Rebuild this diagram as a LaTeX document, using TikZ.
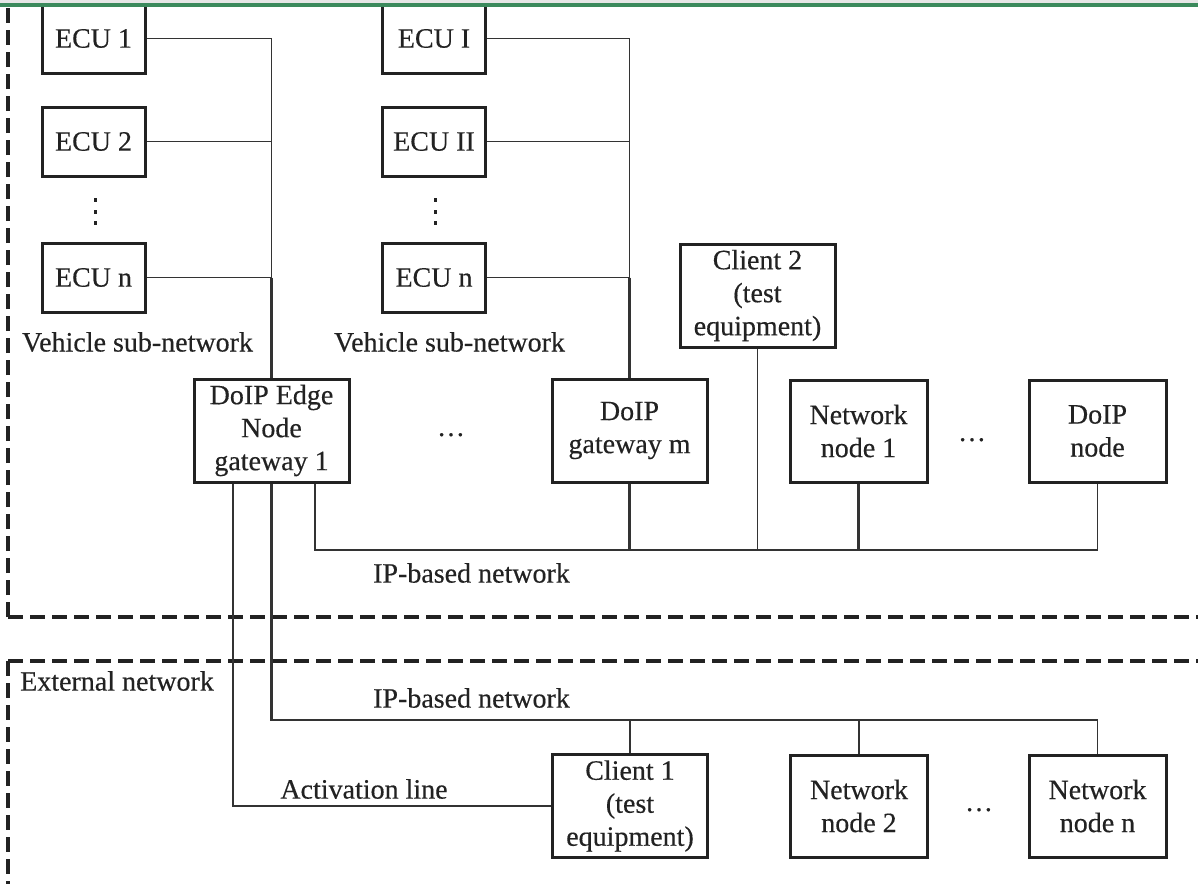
\documentclass[tikz,border=0pt]{standalone}
\usepackage{fontspec}
\setmainfont{Liberation Serif}
\newfontfamily\diagfont{Liberation Serif}[FakeBold=0.35]
\definecolor{ink}{HTML}{222222}
\definecolor{wire}{HTML}{333333}
\definecolor{topgreen}{HTML}{3B8A5C}
\definecolor{topgray}{HTML}{E6E6E6}
\begin{document}
\begin{tikzpicture}[x=1pt,y=-1pt,
  every node/.style={text=ink,font=\diagfont\fontsize{28}{33}\selectfont},
  box/.style={draw=ink,line width=3pt,fill=white,align=center,inner sep=0pt},
  ecubox/.style={box,minimum width=103pt,minimum height=69pt},
  bigbox/.style={box,minimum width=155pt,minimum height=103pt},
  nodebox/.style={box,minimum width=137pt,minimum height=102pt},
  lbl/.style={inner sep=0pt},
  thin/.style={draw=wire,line width=1.5pt},
  med/.style={draw=wire,line width=2.1pt},
  zone/.style={draw=ink,line width=3.2pt,dash pattern=on 15pt off 7pt},
  vdot/.style={fill=ink}
]
\useasboundingbox (0,0) rectangle (1198,883);
\fill[white] (0,0) rectangle (1198,883);

% zone borders
\draw[zone] (8,617) -- (8,-10);
\draw[zone] (8,617) -- (1220,617);
\draw[zone] (8,661) -- (1220,661);
\draw[zone] (8,661) -- (8,900);

% ECUs column 1
\node[ecubox] (ecu1) at (93.5,38.5) {ECU 1};
\node[ecubox] (ecu2) at (93.5,141.5) {ECU 2};
\node[ecubox] (ecun1) at (93.5,277.5) {ECU n};
% ECUs column 2
\node[ecubox] (ecuI) at (434,38.5) {ECU I};
\node[ecubox] (ecuII) at (434,141.5) {ECU II};
\node[ecubox] (ecun2) at (434,277.5) {ECU n};

% vertical dots
\foreach \yy in {198,210,221}{
  \fill[vdot] (93.5,\yy) rectangle ++(3.6,3.6);
  \fill[vdot] (433.5,\yy) rectangle ++(3.6,3.6);
}

\node[lbl] (vsn1) at (137.5,342) {Vehicle sub-network};
\node[lbl] (vsn2) at (449.5,342) {Vehicle sub-network};

% gateways and nodes
\node[bigbox] (gw1) at (271.5,430.5) {DoIP Edge\\Node\\gateway 1};
\node[bigbox] (gwm) at (629.5,430.5) {DoIP\\gateway m};
\node[bigbox] (client2) at (757.5,295.5) {Client 2\\(test\\equipment)};
\node[nodebox] (nn1) at (858.5,431) {Network\\node 1};
\node[nodebox] (doipn) at (1097.5,431) {DoIP\\node};

\node[lbl,anchor=base] (dotsA) at (451,436) {…};
\node[lbl,anchor=base] (dotsB) at (972,441) {…};

% external nodes
\node[bigbox] (client1) at (630,806) {Client 1\\(test\\equipment)};
\node[nodebox] (nn2) at (859,806) {Network\\node 2};
\node[nodebox] (nnn) at (1097.5,806) {Network\\node n};
\node[lbl,anchor=base] (dotsC) at (979,811) {…};

\node[lbl] (ipA) at (471.5,573) {IP-based network};
\node[lbl] (ipB) at (471.5,698) {IP-based network};
\node[lbl,anchor=west] (ext) at (20,681) {External network};
\node[lbl] (act) at (364,789) {Activation line};

% ECU wiring column 1
\draw[thin] (ecu1.east) -| (gw1.north);
\draw[thin] (ecu2.east) -- (ecu2.east -| gw1.north);
\draw[thin] (ecun1.east) -- (ecun1.east -| gw1.north);
\draw[med] (ecun1.east -| gw1.north) -- (gw1.north);
% ECU wiring column 2
\draw[thin] (ecuI.east) -| (gwm.north);
\draw[thin] (ecuII.east) -- (ecuII.east -| gwm.north);
\draw[thin] (ecun2.east) -- (ecun2.east -| gwm.north);
\draw[med] (ecun2.east -| gwm.north) -- (gwm.north);

% internal IP-based network
\coordinate (busL) at (315,550);
\draw[med] ([xshift=43.5pt]gw1.south) -- (busL) -- (busL -| doipn.south);
\draw[thin] (busL -| doipn.south) -- (doipn.south);
\draw[med] (gwm.south) -- (gwm.south |- busL);
\draw[thin] (client2.south) -- (client2.south |- busL);
\draw[med] (nn1.south) -- (nn1.south |- busL);

% external IP-based network
\coordinate (extL) at (271.5,720);
\draw[med] (gw1.south) -- (extL) -- (extL -| nnn.north);
\draw[thin] (extL -| nnn.north) -- (nnn.north);
\draw[thin] (client1.north |- extL) -- (client1.north);
\draw[thin] (nn2.north |- extL) -- (nn2.north);

% activation line
\draw[thin] ([xshift=-38.5pt]gw1.south) |- (client1.west);

% top rule
\fill[topgray] (0,0) rectangle (1198,3.5);
\draw[topgreen,line width=3.4pt] (0,5) -- (1198,5);
\end{tikzpicture}
\end{document}
